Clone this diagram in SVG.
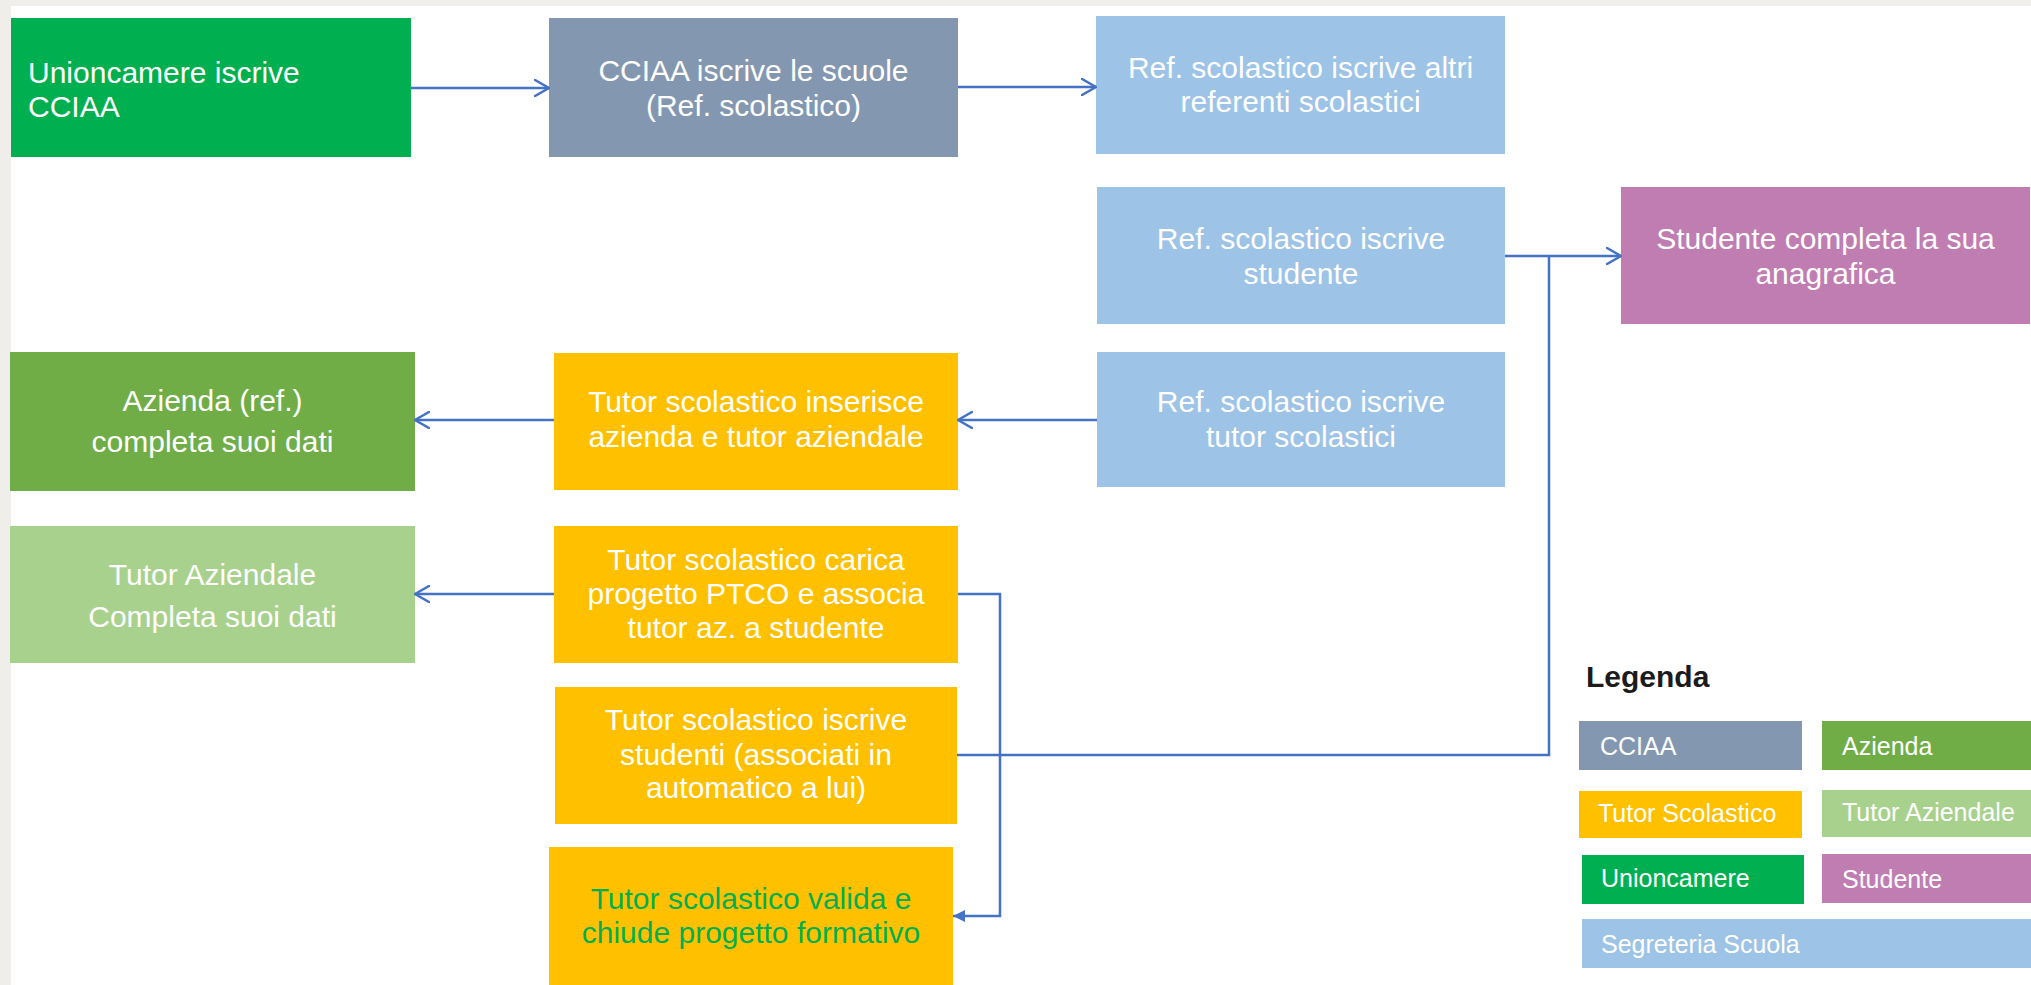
<svg xmlns="http://www.w3.org/2000/svg" width="2031" height="985" viewBox="0 0 2031 985">
<style>
.t{font-family:"Liberation Sans",Arial,sans-serif;font-size:30px;fill:#fff;text-anchor:middle}
.l{font-family:"Liberation Sans",Arial,sans-serif;font-size:25px;fill:#fff}
.c{fill:none;stroke:#4472c4;stroke-width:2.5}
.uc{fill:#00b050}.cc{fill:#8497b0}.sg{fill:#9dc3e6}.st{fill:#bf7db2}.ts{fill:#ffc000}.az{fill:#70ad47}.ta{fill:#a9d18e}
</style>
<defs>
<marker id="open" viewBox="0 0 16 18" markerWidth="16" markerHeight="18" refX="15" refY="9" orient="auto" markerUnits="userSpaceOnUse">
<path d="M1,1 L15,9 L1,17" fill="none" stroke="#4472c4" stroke-width="2.5" stroke-linecap="round" stroke-linejoin="round"/>
</marker>
<marker id="fill" viewBox="0 0 12 12" markerWidth="12" markerHeight="12" refX="12" refY="6" orient="auto" markerUnits="userSpaceOnUse">
<path d="M0,0 L12,6 L0,12 z" fill="#4472c4"/>
</marker>
</defs>
<rect x="0" y="0" width="2031" height="985" fill="#fff"/>
<rect x="0" y="0" width="2031" height="6" fill="#efeeea"/>
<rect x="0" y="0" width="11" height="985" fill="#efeeea"/>

<g id="n1"><rect class="uc" x="11" y="18" width="400" height="139"/>
<text class="t" style="text-anchor:start" x="28" y="83">Unioncamere iscrive</text>
<text class="t" style="text-anchor:start" x="28" y="117">CCIAA</text></g>

<g id="n2"><rect class="cc" x="549" y="18" width="409" height="139"/>
<text class="t" x="753.5" y="81">CCIAA iscrive le scuole</text>
<text class="t" x="753.5" y="116">(Ref. scolastico)</text></g>

<g id="n3"><rect class="sg" x="1096" y="16" width="409" height="138"/>
<text class="t" x="1300.5" y="78">Ref. scolastico iscrive altri</text>
<text class="t" x="1300.5" y="112">referenti scolastici</text></g>

<g id="n4"><rect class="sg" x="1097" y="187" width="408" height="137"/>
<text class="t" x="1301" y="249">Ref. scolastico iscrive</text>
<text class="t" x="1301" y="284">studente</text></g>

<g id="n5"><rect class="st" x="1621" y="187" width="409" height="137"/>
<text class="t" x="1825.5" y="249">Studente completa la sua</text>
<text class="t" x="1825.5" y="284">anagrafica</text></g>

<g id="n6"><rect class="sg" x="1097" y="352" width="408" height="135"/>
<text class="t" x="1301" y="412">Ref. scolastico iscrive</text>
<text class="t" x="1301" y="447">tutor scolastici</text></g>

<g id="n7"><rect class="ts" x="554" y="353" width="404" height="137"/>
<text class="t" x="756" y="412">Tutor scolastico inserisce</text>
<text class="t" x="756" y="447">azienda e tutor aziendale</text></g>

<g id="n8"><rect class="az" x="10" y="352" width="405" height="139"/>
<text class="t" x="212.5" y="411">Azienda (ref.)</text>
<text class="t" x="212.5" y="452">completa suoi dati</text></g>

<g id="n9"><rect class="ta" x="10" y="526" width="405" height="137"/>
<text class="t" x="212.5" y="585">Tutor Aziendale</text>
<text class="t" x="212.5" y="627">Completa suoi dati</text></g>

<g id="n10"><rect class="ts" x="554" y="526" width="404" height="137"/>
<text class="t" x="756" y="570">Tutor scolastico carica</text>
<text class="t" x="756" y="604">progetto PTCO e associa</text>
<text class="t" x="756" y="638">tutor az. a studente</text></g>

<g id="n11"><rect class="ts" x="555" y="687" width="402" height="137"/>
<text class="t" x="756" y="730">Tutor scolastico iscrive</text>
<text class="t" x="756" y="765">studenti (associati in</text>
<text class="t" x="756" y="798">automatico a lui)</text></g>

<g id="n12"><rect class="ts" x="549" y="847" width="404" height="145"/>
<text class="t" style="fill:#00b050" x="751" y="909">Tutor scolastico valida e</text>
<text class="t" style="fill:#00b050" x="751" y="943">chiude progetto formativo</text></g>

<g id="connectors">
<path class="c" d="M411,88 H549" marker-end="url(#open)"/>
<path class="c" d="M958,87 H1096" marker-end="url(#open)"/>
<path class="c" d="M1505,256 H1621" marker-end="url(#open)"/>
<path class="c" d="M957,755 H1549 V256"/>
<path class="c" d="M1097,420 H958" marker-end="url(#open)"/>
<path class="c" d="M554,420 H415" marker-end="url(#open)"/>
<path class="c" d="M554,594 H415" marker-end="url(#open)"/>
<path class="c" d="M958,594 H1000 V916 H953" marker-end="url(#fill)"/>
</g>

<g id="legend">
<text x="1586" y="687" style="font-family:'Liberation Sans',Arial,sans-serif;font-size:30px;font-weight:bold;fill:#1b1b1b">Legenda</text>
<g id="lg-cciaa"><rect class="cc" x="1579" y="721" width="223" height="49"/><text class="l" x="1600" y="755">CCIAA</text></g>
<g id="lg-azienda"><rect class="az" x="1822" y="721" width="209" height="49"/><text class="l" x="1842" y="755">Azienda</text></g>
<g id="lg-tutorscol"><rect class="ts" x="1579" y="791" width="223" height="47"/><text class="l" x="1598" y="822">Tutor Scolastico</text></g>
<g id="lg-tutoraz"><rect class="ta" x="1822" y="790" width="209" height="47"/><text class="l" x="1842" y="821">Tutor Aziendale</text></g>
<g id="lg-union"><rect class="uc" x="1582" y="855" width="222" height="49"/><text class="l" x="1601" y="887">Unioncamere</text></g>
<g id="lg-studente"><rect class="st" x="1822" y="854" width="209" height="49"/><text class="l" x="1842" y="888">Studente</text></g>
<g id="lg-segreteria"><rect class="sg" x="1582" y="919" width="449" height="49"/><text class="l" x="1601" y="953">Segreteria Scuola</text></g>
</g>
</svg>
